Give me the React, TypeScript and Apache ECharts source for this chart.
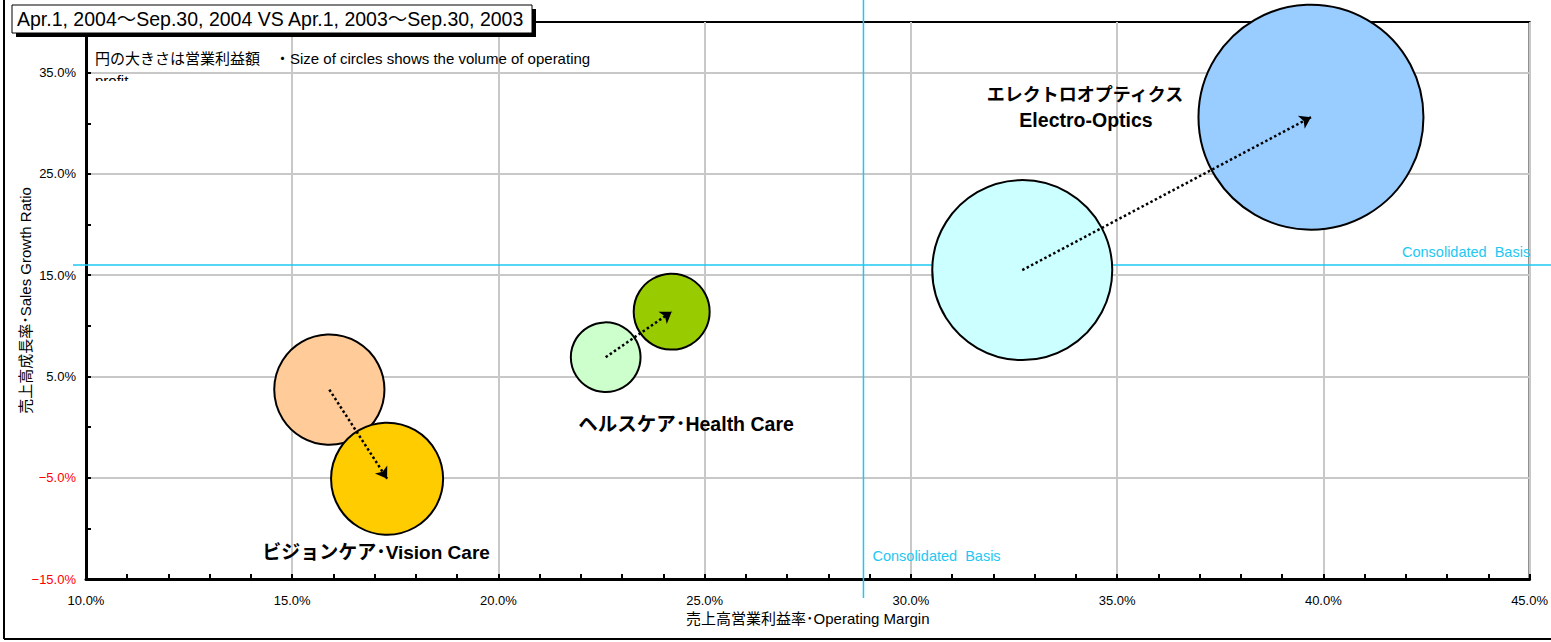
import React, { useEffect, useRef } from 'react';
import * as echarts from 'echarts';

const FONT = '"Liberation Sans", "Noto Sans CJK JP", "Noto Sans", sans-serif';

// Segments (order: Vision Care, Health Care, Electro-Optics)
const segmentNames = ['Vision Care', 'Health Care', 'Electro-Optics'];
// Apr.1, 2003 ~ Sep.30, 2003
const margin2003 = [15.9, 22.6, 32.7];
const growth2003 = [3.7, 6.9, 15.5];
const profit2003 = [6.0, 2.4, 16.0];
// Apr.1, 2004 ~ Sep.30, 2004
const margin2004 = [17.3, 24.2, 39.7];
const growth2004 = [-5.1, 11.4, 30.6];
const profit2004 = [6.2, 2.85, 25.0];
// Consolidated basis
const consolidatedMargin = 28.85;
const consolidatedGrowth = 16.0;

const colors2003 = ['#FFCC99', '#CCFFCC', '#CCFFFF'];
const colors2004 = ['#FFCC00', '#99CC00', '#99CCFF'];

const titleText = 'Apr.1, 2004～Sep.30, 2004 VS Apr.1, 2003～Sep.30, 2003';
const noteText = '円の大きさは営業利益額　・Size of circles shows the volume of operating';
const noteText2 = 'profit';
const xAxisName = '売上高営業利益率･Operating Margin';
const yAxisName = '売上高成長率･Sales Growth Ratio';
const consolidatedLabel = 'Consolidated  Basis';
const labelElectroJa = 'エレクトロオプティクス';
const labelElectroEn = 'Electro-Optics';
const labelHealth = 'ヘルスケア･Health Care';
const labelVision = 'ビジョンケア･Vision Care';

const CYAN = '#1EC8F2';

export default function App() {
  const ref = useRef<HTMLDivElement>(null);
  useEffect(() => {
    const chart = echarts.init(ref.current!, null, { renderer: 'svg' });
    const bubbles: any[] = [];
    segmentNames.forEach((name, i) => {
      bubbles.push({ name: name + ' 2003', value: [margin2003[i], growth2003[i], profit2003[i]], itemStyle: { color: colors2003[i] } });
    });
    segmentNames.forEach((name, i) => {
      bubbles.push({ name: name + ' 2004', value: [margin2004[i], growth2004[i], profit2004[i]], itemStyle: { color: colors2004[i] } });
    });
    const arrows = segmentNames.map((name, i) => ({
      name,
      coords: [[margin2003[i], growth2003[i]], [margin2004[i], growth2004[i]]],
    }));

    const pct = (v: number) => (v < 0 ? '−' + Math.abs(v).toFixed(1) : v.toFixed(1)) + '%';

    chart.setOption({
      animation: false,
      textStyle: { fontFamily: FONT },
      grid: { left: 86, right: 20, top: 22, bottom: 63, show: true, borderColor: '#000', borderWidth: 2, backgroundColor: '#fff' },
      xAxis: {
        type: 'value', min: 10, max: 45, interval: 5,
        name: xAxisName, nameLocation: 'middle', nameGap: 32, nameMoveOverlap: false,
        nameTextStyle: { fontSize: 15, color: '#000', fontFamily: FONT },
        axisLine: { show: true, onZero: false, lineStyle: { color: '#000', width: 3 } },
        axisTick: { show: true, inside: true, length: 5, lineStyle: { color: '#000', width: 2 } },
        minorTick: { show: true, splitNumber: 5, length: 5, lineStyle: { color: '#000', width: 2 } },
        axisLabel: { formatter: (v: number) => pct(v), fontSize: 13, color: '#000', margin: 15, fontFamily: FONT },
        splitLine: { show: true, lineStyle: { color: '#c8c8c8', width: 2 } },
      },
      yAxis: {
        type: 'value', min: -15, max: 40, interval: 5,
        name: yAxisName, nameLocation: 'middle', nameGap: 53, nameMoveOverlap: false,
        nameTextStyle: { fontSize: 15, color: '#000', fontFamily: FONT },
        axisLine: { show: true, onZero: false, lineStyle: { color: '#000', width: 3 } },
        axisTick: { show: true, inside: true, length: 5, lineStyle: { color: '#000', width: 2 } },
        axisLabel: {
          formatter: (v: number) => (Math.round((v + 15) / 5) % 2 === 0 ? pct(v) : ''),
          color: (v: any) => (Number(v) < 0 ? '#FF0000' : '#000'),
          fontSize: 13, margin: 10, fontFamily: FONT,
        },
        splitLine: { show: true, lineStyle: { color: ['#c8c8c8', 'rgba(0,0,0,0)'], width: 2 } },
      },
      series: [
        {
          type: 'scatter',
          z: 3,
          data: bubbles,
          symbolSize: (val: number[]) => 45 * Math.sqrt(val[2]),
          itemStyle: { borderColor: '#000', borderWidth: 2, opacity: 1 },
          emphasis: { disabled: true },
        },
        {
          type: 'lines',
          coordinateSystem: 'cartesian2d',
          z: 5,
          data: arrows,
          symbol: ['none', 'arrow'],
          symbolSize: 11,
          lineStyle: { color: '#000', width: 2.5, type: [2.5, 2.5], opacity: 1, curveness: 0 },
          silent: true,
        },
      ],
    });

    const [cx, cy] = chart.convertToPixel({ gridIndex: 0 }, [consolidatedMargin, consolidatedGrowth]) as number[];

    chart.setOption({
      graphic: [
        // outer frame
        { type: 'line', z: 1, shape: { x1: 4, y1: 0, x2: 4, y2: 639 }, style: { stroke: '#000', lineWidth: 2 } },
        { type: 'line', z: 1, shape: { x1: 4, y1: 639, x2: 1551, y2: 639 }, style: { stroke: '#000', lineWidth: 2 } },
        // consolidated basis lines
        { type: 'line', z: 1, shape: { x1: cx, y1: 0, x2: cx, y2: 598 }, style: { stroke: CYAN, lineWidth: 1.5 } },
        { type: 'line', z: 1, shape: { x1: 73, y1: cy, x2: 1551, y2: cy }, style: { stroke: CYAN, lineWidth: 1.5 } },
        { type: 'text', z: 1, x: cx + 9, y: 556, style: { text: consolidatedLabel, fill: CYAN, font: `14.5px ${FONT}`, textVerticalAlign: 'middle' } },
        { type: 'text', z: 1, x: 1402, y: cy - 13, style: { text: consolidatedLabel, fill: CYAN, font: `14.5px ${FONT}`, textVerticalAlign: 'middle' } },
        // title box
        { type: 'rect', z: 10, shape: { x: 16, y: 9, width: 520, height: 28 }, style: { fill: '#000' } },
        { type: 'rect', z: 11, shape: { x: 12, y: 5, width: 520, height: 28 }, style: { fill: '#fff', stroke: '#000', lineWidth: 1 } },
        { type: 'text', z: 12, x: 17, y: 19, style: { text: titleText, fill: '#000', font: `19.5px ${FONT}`, textVerticalAlign: 'middle' } },
        // note
        { type: 'text', z: 12, x: 95, y: 58, style: { text: noteText, fill: '#000', font: `15px ${FONT}`, textVerticalAlign: 'middle' } },
        { type: 'text', z: 12, x: 95, y: 80, style: { text: noteText2, fill: '#000', font: `15px ${FONT}`, textVerticalAlign: 'middle' } },
        { type: 'rect', z: 13, shape: { x: 93, y: 81, width: 60, height: 12 }, style: { fill: '#fff' } },
        // segment labels
        { type: 'text', z: 12, x: 1085, y: 95, style: { text: labelElectroJa, fill: '#000', font: `bold 18px ${FONT}`, textAlign: 'center', textVerticalAlign: 'middle' } },
        { type: 'text', z: 12, x: 1086, y: 120, style: { text: labelElectroEn, fill: '#000', font: `bold 19.5px ${FONT}`, textAlign: 'center', textVerticalAlign: 'middle' } },
        { type: 'text', z: 12, x: 686, y: 424, style: { text: labelHealth, fill: '#000', font: `bold 19.5px ${FONT}`, textAlign: 'center', textVerticalAlign: 'middle' } },
        { type: 'text', z: 12, x: 376, y: 552, style: { text: labelVision, fill: '#000', font: `bold 19px ${FONT}`, textAlign: 'center', textVerticalAlign: 'middle' } },
      ],
    });

    return () => chart.dispose();
  }, []);
  return <div ref={ref} style={{ position: 'fixed', left: 0, top: 0, width: 1551, height: 642, background: '#fff' }} />;
}
